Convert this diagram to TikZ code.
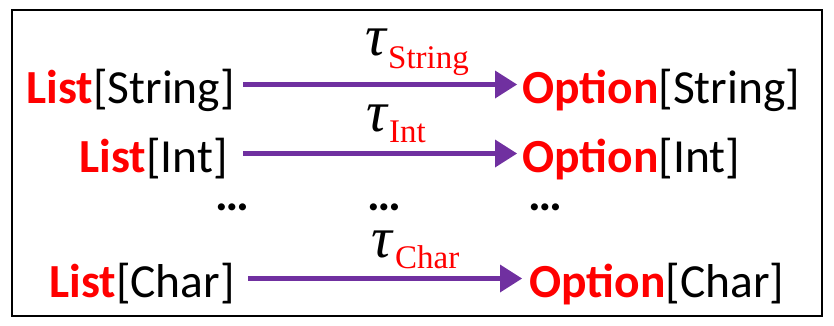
\documentclass[tikz,border=0pt]{standalone}
\usepackage{fontspec}
\setmainfont{Carlito}
\newfontfamily\subfont{Liberation Serif}
\usetikzlibrary{arrows.meta}
\definecolor{kwred}{RGB}{255,0,0}
\definecolor{maparrow}{RGB}{112,48,160}
\newcommand{\kw}[1]{\textbf{\color{kwred}#1}}
\begin{document}
\begin{tikzpicture}[x=1pt,y=-1pt,
  typ/.style={font=\fontsize{47.5}{47.5}\selectfont, inner sep=0pt, text height=40pt, text depth=3pt},
  src/.style={typ, anchor=base east},
  dst/.style={typ, anchor=base west},
  gap/.style={font=\fontsize{47.5}{47.5}\selectfont\bfseries, inner sep=0pt, text height=8pt, text depth=0pt, anchor=base west},
  tau/.style={font=\subfont\itshape\fontsize{58}{58}\selectfont, inner sep=0pt, text height=26pt, text depth=0pt, anchor=base west},
  sub/.style={font=\subfont\fontsize{33}{33}\selectfont, text=kwred, inner sep=0pt, anchor=base west},
  maps/.style={draw=maparrow, line width=5pt,
    -{Triangle[length=22pt,width=28pt,line width=0pt]}}]
  \useasboundingbox (0,0) rectangle (834,325);
  \draw[line width=2.4pt] (12,10) rectangle (822,316);

  % String
  \node[src] (l1) at (235,103) {\kw{List}[String]};
  \node[dst] (o1) at (522,103) {\kw{Option}[String]};
  \draw[maps, shorten <=8pt, shorten >=5pt] (l1.east) -- (o1.west);
  \node[tau] (t1) at (365,55) {τ};
  \node[sub] (s1) at (388,68) {String};

  % Int
  \node[src] (l2) at (228,172) {\kw{List}[Int]};
  \node[dst] (o2) at (522,172) {\kw{Option}[Int]};
  \draw[maps, shorten <=15pt, shorten >=5pt] (l2.east) -- (o2.west);
  \node[tau] (t2) at (366,131) {τ};
  \node[sub] (s2) at (389,142) {Int};

  % elided rows
  \node[gap] (d1) at (215,210) {…};
  \node[gap] (d2) at (367,210) {…};
  \node[gap] (d3) at (528,210) {…};

  % Char
  \node[src] (l3) at (235,297) {\kw{List}[Char]};
  \node[dst] (o3) at (529,297) {\kw{Option}[Char]};
  \draw[maps, shorten <=13pt, shorten >=7pt] (l3.east) -- (o3.west);
  \node[tau] (t3) at (371,257) {τ};
  \node[sub] (s3) at (395,268) {Char};
\end{tikzpicture}
\end{document}
